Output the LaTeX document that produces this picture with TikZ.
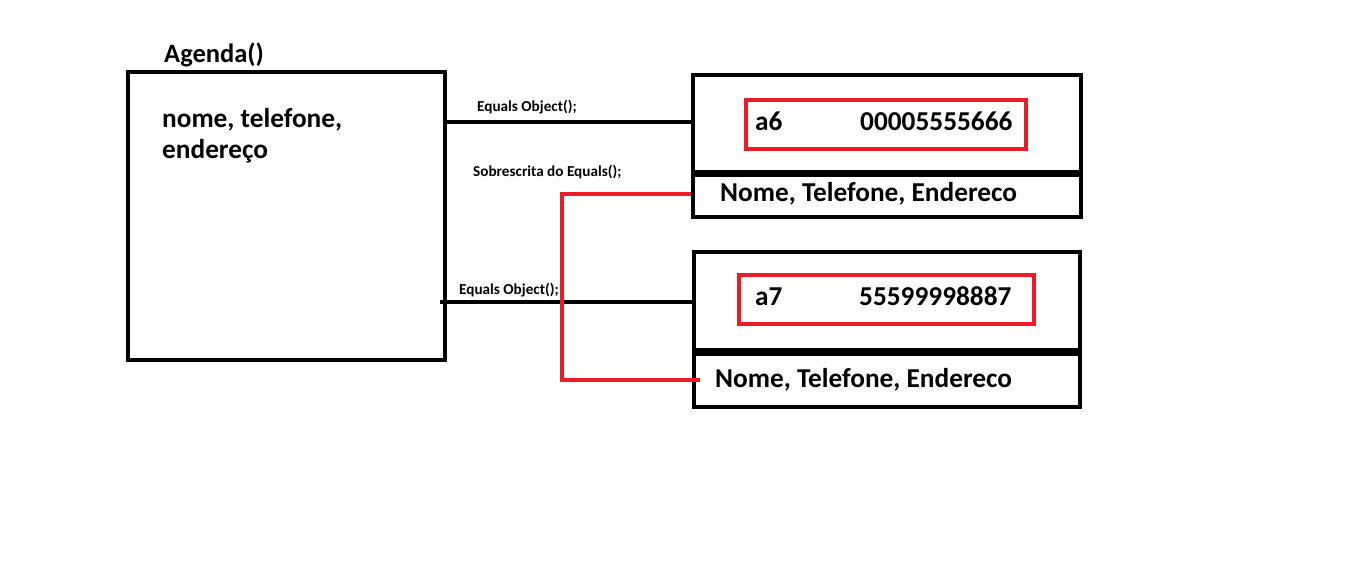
\documentclass[tikz,border=0pt]{standalone}
\usepackage{fontspec}
\setmainfont{Carlito}
\definecolor{pred}{HTML}{ED1C24}
\begin{document}
\begin{tikzpicture}[x=1pt,y=-1pt,
  box/.style={draw=black,line width=4pt,minimum width=0pt,inner sep=0pt,anchor=north west},
  rbox/.style={draw=pred,line width=4pt,inner sep=0pt,anchor=north west},
  big/.style={font=\bfseries\fontsize{27.3}{32}\selectfont,inner sep=0pt,anchor=base west},
  small/.style={font=\bfseries\fontsize{15.2}{18}\selectfont,inner sep=0pt,anchor=base west},
  conn/.style={line width=4pt,black},
  rconn/.style={line width=4pt,pred}]
\useasboundingbox[fill=white] (0,0) rectangle (1358,561);
% Agenda box
\node[box,minimum width=317pt,minimum height=288pt] (agenda) at (126,70) {};
\node[font=\bfseries\fontsize{26.5}{31}\selectfont,inner sep=0pt,anchor=base west] (agt) at (164,63) {Agenda()};
\node[big] (nome) at (162,128) {nome, telefone,};
\node[big] (end) at (162,159) {endereço};
% object a6
\node[box,minimum width=388pt,minimum height=97pt] (b1) at (691,73) {};
\node[box,minimum width=388pt,minimum height=42pt] (b2) at (691,173) {};
\node[rbox,minimum width=280pt,minimum height=49pt] (r1) at (744,98) {};
\node[big] (a6) at (755,131) {a6};
\node[big] (n6) at (860,131) {00005555666};
\node[big] (f6) at (720,202) {Nome, Telefone, Endereco};
% object a7
\node[box,minimum width=386pt,minimum height=98pt] (b3) at (692,250) {};
\node[box,minimum width=386pt,minimum height=53pt] (b4) at (692,352) {};
\node[rbox,minimum width=295pt,minimum height=49pt] (r2) at (737,273) {};
\node[big] (a7) at (755,306) {a7};
\node[big] (n7) at (859,306) {55599998887};
\node[big] (f7) at (715,388) {Nome, Telefone, Endereco};
% labels
\node[small] (l1) at (477,112) {Equals Object();};
\node[small] (l2) at (473,177) {Sobrescrita do Equals();};
\node[small] (l3) at (459,295) {Equals Object();};
% connectors
\coordinate (c1) at (443,122);
\coordinate (c3) at (440,302);
\coordinate (c3e) at (692,302);
\draw[conn] (c1) -- (b1.west |- c1);
\draw[conn] (c3) -- (c3e);
\coordinate (rtop) at (562,194);
\coordinate (rbot) at (562,380);
\coordinate (rend) at (700,380);
\draw[rconn] (b2.west |- rtop) -- (rtop) -- (rbot) -- (rend);
\end{tikzpicture}
\end{document}
